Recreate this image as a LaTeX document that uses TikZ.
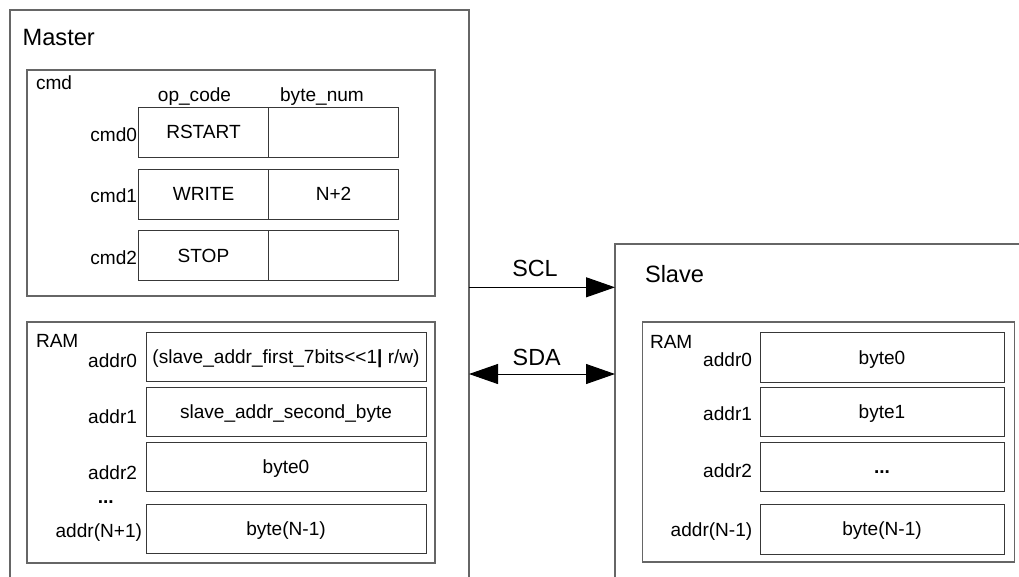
\documentclass[tikz,border=0pt]{standalone}
\usepackage{fontspec}
\setmainfont{Liberation Sans}
\usetikzlibrary{arrows.meta}
\definecolor{framecol}{gray}{0.40}
\definecolor{cellcol}{gray}{0.22}
\begin{document}
\begin{tikzpicture}[x=0.75pt,y=-0.75pt,
  every node/.style={inner sep=0pt, outer sep=0pt, font=\fontsize{14.3}{16}\selectfont},
  bigbox/.style={draw=framecol, line width=0.9pt, anchor=north west},
  cellbox/.style={draw=cellcol, line width=0.75pt, anchor=north west, text height=10pt, text depth=0pt, align=center},
  lbl/.style={anchor=base east},
  title/.style={anchor=base west, font=\fontsize{17.7}{20}\selectfont},
  sigtxt/.style={anchor=base, font=\fontsize{17.5}{20}\selectfont},
  tag/.style={anchor=base west},
  sig/.style={line width=0.75pt, draw=black}
]
\useasboundingbox (0,0) rectangle (1019,576);
\clip (0,0) rectangle (1019,576);

% ---------- Master ----------
\node[bigbox, minimum width=344.25pt, minimum height=450pt] (master) at (10,10) {};
\node[title] (mastertxt) at (22.7,45) {Master};

% cmd box
\node[bigbox, minimum width=306pt, minimum height=169.5pt] (cmdbox) at (27,70) {};
\node[tag] (cmdtxt) at (36,89) {cmd};
\node[anchor=base] (opcode) at (194.5,101.5) {op\_code};
\node[anchor=base] (bytenum) at (322,101.5) {byte\_num};

\node[cellbox, minimum width=97.5pt, minimum height=37.5pt] (c0a) at (138.5,107) {RSTART};
\node[cellbox, minimum width=97.5pt, minimum height=37.5pt] (c0b) at (268.5,107) {};
\node[cellbox, minimum width=97.5pt, minimum height=37.5pt] (c1a) at (138.5,169) {WRITE};
\node[cellbox, minimum width=97.5pt, minimum height=37.5pt] (c1b) at (268.5,169) {N+2};
\node[cellbox, minimum width=97.5pt, minimum height=37.5pt] (c2a) at (138.5,230.5) {STOP};
\node[cellbox, minimum width=97.5pt, minimum height=37.5pt] (c2b) at (268.5,230.5) {};

\node[lbl] (cmd0) at (137,141.5) {cmd0};
\node[lbl] (cmd1) at (137,202.5) {cmd1};
\node[lbl] (cmd2) at (137,264) {cmd2};

% Master RAM
\node[bigbox, minimum width=306pt, minimum height=180.75pt] (mram) at (27,322) {};
\node[tag] (mramtxt) at (36,347.7) {RAM};
\node[cellbox, minimum width=210pt, minimum height=37.1pt] (m0) at (146,332.3) {(slave\_addr\_first\_7bits<{}<1\textbf{|} r/w)};
\node[cellbox, minimum width=210pt, minimum height=37.1pt] (m1) at (146,387.3) {slave\_addr\_second\_byte};
\node[cellbox, minimum width=210pt, minimum height=37.1pt] (m2) at (146,442.3) {byte0};
\node[cellbox, minimum width=210pt, minimum height=37.1pt] (m3) at (146,504) {byte(N-1)};

\node[lbl] (ma0) at (137,367.7) {addr0};
\node[lbl] (ma1) at (137,423.5) {addr1};
\node[lbl] (ma2) at (137,479) {addr2};
\node[anchor=base] (mdots) at (105.8,503) {\textbf{...}};
\node[lbl] (ma3) at (142,537) {addr(N+1)};

% ---------- Slave ----------
\node[bigbox, minimum width=330pt, minimum height=270pt] (slave) at (615,244) {};
\node[title] (slavetxt) at (645,282.7) {Slave};

\node[bigbox, minimum width=279pt, minimum height=180pt] (sram) at (642.3,322) {};
\node[tag] (sramtxt) at (650,348.3) {RAM};
\node[cellbox, minimum width=183pt, minimum height=37.5pt] (s0) at (760,332.7) {byte0};
\node[cellbox, minimum width=183pt, minimum height=37.1pt] (s1) at (760,387.3) {byte1};
\node[cellbox, minimum width=183pt, minimum height=37.1pt] (s2) at (760,442.3) {\textbf{...}};
\node[cellbox, minimum width=183pt, minimum height=37.5pt] (s3) at (760,504) {byte(N-1)};

\node[lbl] (sa0) at (752,366.7) {addr0};
\node[lbl] (sa1) at (752,420.5) {addr1};
\node[lbl] (sa2) at (752,477.3) {addr2};
\node[lbl] (sa3) at (752.3,536.7) {addr(N-1)};

% ---------- Signals ----------
\coordinate (sclY) at (540,287.3);
\coordinate (sdaY) at (540,374);
\draw[sig, -{Triangle[length=21.75pt,width=15pt]}] (sclY -| master.east) -- (sclY -| slave.west);
\draw[sig, {Triangle[length=21.75pt,width=15pt]}-{Triangle[length=21.75pt,width=15pt]}] (sdaY -| master.east) -- (sdaY -| slave.west);
\node[sigtxt] (scltxt) at (535,276.7) {SCL};
\node[sigtxt] (sdatxt) at (536.7,365) {SDA};
\end{tikzpicture}
\end{document}
